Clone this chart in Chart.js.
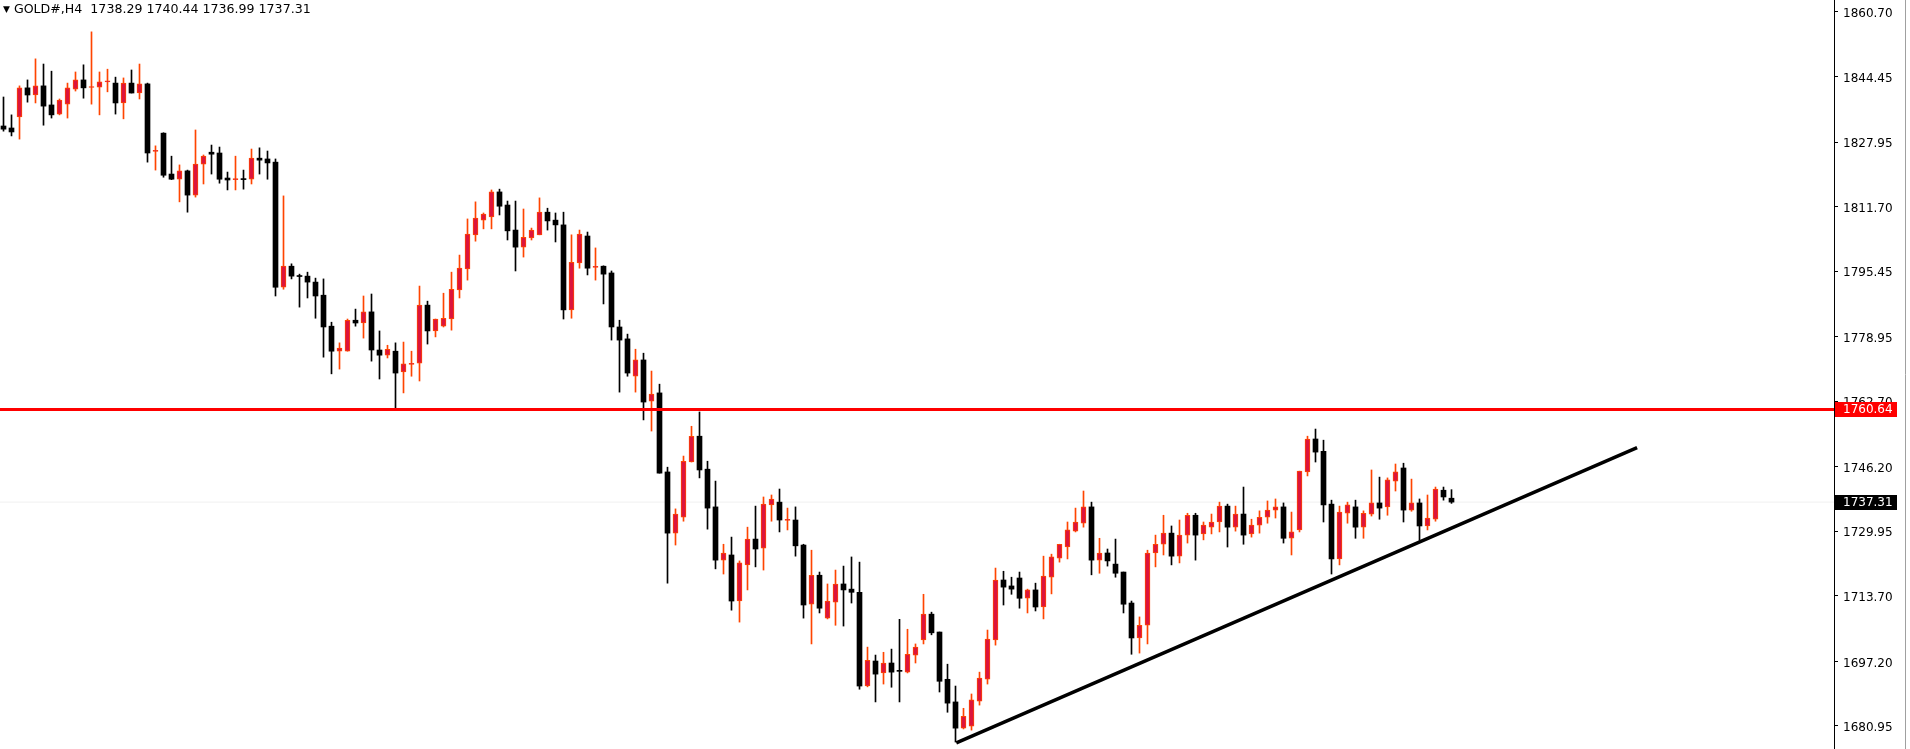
<!DOCTYPE html>
<html>
<head>
<meta charset="utf-8">
<title>GOLD#,H4</title>
<script src="https://cdn.jsdelivr.net/npm/chart.js@4.4.0/dist/chart.umd.min.js"></script>
<style>
  html, body { margin: 0; padding: 0; background: #fff; overflow: hidden; }
  #wrap { position: relative; width: 1910px; height: 749px; }
  #titulo { position: absolute; left: 3px; top: 2px; font: 12.6px "DejaVu Sans", sans-serif; color: #000; white-space: pre; line-height: 14px; }
  #titulo .seta { font-size: 9px; vertical-align: 1px; }
</style>
</head>
<body>
<div id="wrap">
  <canvas id="grafico" width="1910" height="749"></canvas>
  <div id="titulo"></div>
</div>
<script>
// dados das velas (H4), da mais antiga para a mais recente
const simbolo = "GOLD#";
const periodo = "H4";

const aberturas = [
  1832.0, 1831.5, 1834.3, 1841.6, 1839.8, 1842.1, 1837.3, 1835.0, 1837.5, 1841.3,
  1843.6, 1841.7, 1841.8, 1843.1, 1842.8, 1837.8, 1842.8, 1840.3, 1842.6, 1825.6,
  1830.2, 1819.9, 1818.6, 1820.7, 1814.6, 1822.4, 1825.4, 1825.2, 1818.9, 1818.5,
  1818.7, 1818.6, 1823.9, 1823.7, 1822.9, 1791.4, 1796.7, 1794.3, 1794.2, 1792.7,
  1789.4, 1781.6, 1775.3, 1775.3, 1783.1, 1782.4, 1785.2, 1775.6, 1774.3, 1775.3,
  1770.1, 1772.0, 1772.3, 1786.9, 1780.4, 1781.6, 1783.4, 1790.7, 1796.0, 1804.6,
  1808.3, 1809.1, 1815.4, 1812.1, 1805.8, 1801.5, 1803.8, 1804.6, 1810.3, 1808.3,
  1807.1, 1785.7, 1797.5, 1804.3, 1796.4, 1796.7, 1795.0, 1781.4, 1778.4, 1769.0,
  1773.1, 1762.7, 1764.8, 1744.9, 1729.5, 1733.5, 1747.4, 1753.9, 1745.6, 1736.1,
  1722.7, 1724.0, 1712.4, 1721.5, 1728.0, 1725.7, 1736.6, 1737.3, 1732.7, 1732.8,
  1726.5, 1711.6, 1718.9, 1708.1, 1712.1, 1716.7, 1715.4, 1714.6, 1691.0, 1697.3,
  1694.3, 1696.8, 1694.8, 1694.5, 1698.8, 1702.6, 1709.1, 1704.6, 1692.7, 1687.0,
  1680.4, 1680.9, 1687.2, 1692.7, 1702.6, 1717.7, 1716.2, 1718.2, 1713.1, 1715.2,
  1710.9, 1718.4, 1723.2, 1726.0, 1730.0, 1732.0, 1736.1, 1722.7, 1724.5, 1721.7,
  1719.7, 1711.9, 1703.1, 1706.3, 1724.5, 1726.7, 1729.5, 1723.7, 1729.0, 1734.0,
  1729.3, 1731.0, 1732.3, 1736.3, 1731.0, 1734.3, 1729.3, 1731.5, 1733.5, 1735.3,
  1736.1, 1728.2, 1730.3, 1744.9, 1753.2, 1750.1, 1736.8, 1723.0, 1734.5, 1736.1,
  1731.0, 1734.3, 1737.1, 1736.1, 1742.6, 1745.9, 1735.3, 1737.1, 1731.3, 1733.0,
  1740.3, 1738.29
];

const maximas = [
  1839.3, 1834.8, 1842.1, 1843.6, 1848.9, 1847.6, 1845.8, 1838.8, 1842.8, 1845.6,
  1847.4, 1855.7, 1845.6, 1846.3, 1844.3, 1844.1, 1846.1, 1847.6, 1842.8, 1827.0,
  1830.3, 1824.4, 1822.2, 1820.9, 1831.0, 1824.7, 1827.2, 1826.7, 1820.4, 1824.4,
  1820.9, 1826.2, 1826.5, 1825.7, 1823.7, 1814.4, 1797.3, 1794.7, 1795.2, 1793.7,
  1793.5, 1782.6, 1777.4, 1783.4, 1785.9, 1789.2, 1789.7, 1780.4, 1776.8, 1777.4,
  1777.6, 1775.3, 1791.7, 1787.9, 1783.4, 1789.9, 1795.2, 1799.5, 1808.6, 1812.9,
  1810.1, 1815.9, 1816.1, 1813.1, 1813.1, 1811.1, 1806.3, 1813.9, 1811.3, 1810.1,
  1810.3, 1804.6, 1805.8, 1805.3, 1801.3, 1796.8, 1795.5, 1783.1, 1779.6, 1775.8,
  1774.8, 1770.3, 1767.0, 1746.1, 1735.6, 1748.9, 1756.4, 1760.0, 1747.6, 1742.6,
  1726.7, 1728.5, 1722.5, 1731.0, 1736.3, 1738.6, 1739.1, 1740.6, 1735.8, 1736.1,
  1726.7, 1725.2, 1719.7, 1716.7, 1720.2, 1721.2, 1723.5, 1722.2, 1700.8, 1698.8,
  1699.5, 1700.3, 1707.8, 1705.3, 1701.6, 1714.1, 1709.6, 1704.6, 1696.5, 1691.0,
  1685.4, 1689.0, 1694.5, 1705.1, 1720.7, 1719.9, 1718.4, 1719.7, 1715.4, 1716.9,
  1723.7, 1724.2, 1726.7, 1732.3, 1735.8, 1740.1, 1737.3, 1728.2, 1725.5, 1728.0,
  1719.7, 1712.4, 1708.4, 1725.2, 1729.0, 1734.0, 1731.3, 1732.8, 1734.5, 1734.5,
  1732.3, 1734.3, 1737.3, 1736.8, 1736.3, 1741.1, 1733.0, 1735.1, 1737.6, 1738.1,
  1737.1, 1734.8, 1745.1, 1753.9, 1755.7, 1752.9, 1737.8, 1736.3, 1737.3, 1737.8,
  1735.1, 1745.4, 1743.6, 1743.4, 1746.9, 1747.1, 1743.1, 1738.1, 1739.1, 1741.1,
  1741.1, 1740.44
];

const minimas = [
  1830.7, 1829.5, 1828.7, 1838.0, 1837.8, 1832.2, 1834.0, 1834.8, 1834.0, 1840.8,
  1839.0, 1837.5, 1834.8, 1840.6, 1835.0, 1833.8, 1840.3, 1838.8, 1822.9, 1820.9,
  1819.1, 1818.5, 1812.9, 1810.3, 1814.1, 1817.4, 1819.9, 1817.6, 1815.9, 1815.9,
  1816.1, 1817.4, 1819.9, 1818.6, 1789.2, 1790.9, 1793.5, 1786.4, 1788.7, 1783.6,
  1773.8, 1769.6, 1770.8, 1775.3, 1781.6, 1778.6, 1772.8, 1768.3, 1773.6, 1760.6,
  1764.8, 1769.0, 1767.8, 1777.1, 1778.9, 1781.4, 1780.6, 1788.7, 1793.2, 1803.0,
  1806.1, 1806.1, 1809.6, 1803.3, 1795.5, 1799.0, 1803.3, 1804.6, 1805.8, 1802.8,
  1783.4, 1783.6, 1796.2, 1794.5, 1793.2, 1787.2, 1778.1, 1765.0, 1769.0, 1765.0,
  1758.0, 1755.2, 1744.6, 1716.9, 1726.5, 1732.5, 1747.4, 1743.4, 1730.5, 1720.5,
  1719.2, 1710.1, 1707.1, 1715.2, 1721.0, 1720.2, 1732.5, 1729.8, 1730.3, 1723.7,
  1708.1, 1701.6, 1709.4, 1707.9, 1706.3, 1706.1, 1711.9, 1690.2, 1690.8, 1687.0,
  1691.5, 1690.7, 1687.0, 1694.3, 1696.8, 1701.6, 1703.9, 1689.5, 1684.4, 1676.9,
  1680.2, 1679.9, 1686.2, 1691.5, 1701.3, 1711.4, 1714.1, 1710.6, 1709.4, 1709.9,
  1707.9, 1714.2, 1722.2, 1723.0, 1729.8, 1731.0, 1719.0, 1719.4, 1721.2, 1718.4,
  1709.4, 1699.0, 1699.3, 1701.6, 1721.0, 1724.0, 1721.5, 1722.0, 1727.0, 1722.7,
  1727.8, 1729.3, 1729.8, 1726.0, 1730.0, 1726.7, 1728.5, 1729.5, 1732.0, 1733.3,
  1727.0, 1724.0, 1729.8, 1743.9, 1747.4, 1732.3, 1719.2, 1721.5, 1732.0, 1728.2,
  1728.2, 1733.8, 1733.0, 1734.0, 1740.1, 1732.3, 1735.0, 1727.7, 1730.3, 1732.5,
  1737.8, 1736.99
];

const fechamentos = [
  1831.2, 1830.5, 1841.6, 1839.8, 1842.1, 1837.0, 1834.8, 1838.5, 1841.6, 1843.6,
  1841.6, 1841.9, 1843.1, 1843.3, 1837.8, 1842.8, 1840.3, 1842.6, 1825.2, 1825.8,
  1819.6, 1818.6, 1820.7, 1814.6, 1822.4, 1824.4, 1824.9, 1818.6, 1818.4, 1818.7,
  1818.5, 1823.9, 1823.4, 1822.7, 1791.4, 1796.7, 1794.2, 1794.1, 1792.7, 1789.2,
  1781.4, 1775.3, 1776.1, 1783.1, 1782.4, 1785.2, 1775.6, 1774.3, 1775.8, 1769.8,
  1772.1, 1772.2, 1786.9, 1780.4, 1783.4, 1783.6, 1790.9, 1796.2, 1804.8, 1808.8,
  1809.8, 1815.4, 1811.8, 1805.6, 1801.5, 1804.0, 1805.8, 1810.3, 1808.1, 1807.1,
  1785.7, 1797.7, 1804.8, 1796.2, 1796.6, 1794.7, 1781.4, 1778.1, 1769.8, 1773.1,
  1762.5, 1764.5, 1744.6, 1729.5, 1734.3, 1747.6, 1753.9, 1745.4, 1735.8, 1722.7,
  1724.5, 1712.4, 1722.0, 1728.0, 1725.5, 1736.8, 1738.1, 1732.8, 1732.9, 1726.3,
  1711.4, 1718.9, 1710.6, 1712.4, 1716.7, 1715.2, 1714.6, 1691.0, 1697.5, 1694.0,
  1696.8, 1694.5, 1694.7, 1699.0, 1700.8, 1709.1, 1704.4, 1692.2, 1686.7, 1680.4,
  1683.4, 1687.5, 1693.0, 1702.8, 1717.7, 1715.9, 1715.4, 1713.1, 1715.2, 1710.9,
  1718.7, 1723.5, 1726.7, 1730.3, 1732.3, 1736.1, 1722.7, 1724.5, 1722.5, 1719.4,
  1711.6, 1703.1, 1706.3, 1724.5, 1726.7, 1729.5, 1723.7, 1729.0, 1734.0, 1729.0,
  1731.5, 1732.3, 1736.3, 1731.0, 1734.3, 1729.0, 1731.5, 1733.5, 1735.3, 1736.1,
  1728.2, 1729.8, 1745.1, 1753.2, 1749.9, 1736.6, 1723.0, 1734.8, 1736.6, 1731.0,
  1734.5, 1737.1, 1735.8, 1742.9, 1744.9, 1735.3, 1737.1, 1731.3, 1733.3, 1740.6,
  1738.6, 1737.31
];

// rótulos do eixo de preços
const rotulosY = [1860.70, 1844.45, 1827.95, 1811.70, 1795.45, 1778.95, 1762.70, 1746.20, 1729.95, 1713.70, 1697.20, 1680.95];

// linha horizontal (suporte/resistência) e linha de tendência (índice da vela, preço)
const nivelHorizontal = 1760.64;
const tendenciaX = [119.1, 204.2];
const tendenciaY = [1676.7, 1751.0];

// cores
const corAlta = '#dc143c';
const corAltaBorda = '#ff4500';
const corBaixa = '#000000';

document.addEventListener("DOMContentLoaded", function () {
  const n = fechamentos.length;
  const xMin = -0.4375;
  const xMax = 228.8125;
  const alta = i => fechamentos[i] >= aberturas[i];

  const ultimo = n - 1;
  document.getElementById("titulo").innerHTML =
    '<span class="seta">&#9660;</span> ' + simbolo + ',' + periodo + '  ' +
    [aberturas[ultimo], maximas[ultimo], minimas[ultimo], fechamentos[ultimo]].map(v => v.toFixed(2)).join(' ');

  const pavios = aberturas.map((_, i) => ({ x: i, y: [minimas[i], maximas[i]] }));
  const corpos = aberturas.map((o, i) => ({ x: i, y: [Math.min(o, fechamentos[i]), Math.max(o, fechamentos[i])] }));

  // caixas de preço no eixo + borda direita
  const etiquetasEixo = {
    id: 'etiquetasEixo',
    afterDraw(chart) {
      const { ctx, chartArea, scales } = chart;
      const y = scales.y;
      function caixa(valor, cor) {
        const py = Math.round(y.getPixelForValue(valor));
        ctx.save();
        ctx.fillStyle = cor;
        ctx.fillRect(chartArea.right + 1, py - 7, 62, 15);
        ctx.fillStyle = '#fff';
        ctx.font = '12px "DejaVu Sans"';
        ctx.textBaseline = 'middle';
        ctx.fillText(valor.toFixed(2), chartArea.right + 9, py + 1);
        ctx.restore();
      }
      caixa(nivelHorizontal, '#ff0000');
      caixa(fechamentos[ultimo], '#000000');

      ctx.save();
      ctx.strokeStyle = '#a0a0a0';
      ctx.lineWidth = 1;
      ctx.beginPath();
      ctx.moveTo(chart.width - 4.5, 0);
      ctx.lineTo(chart.width - 4.5, chart.height);
      ctx.stroke();
      ctx.restore();
    }
  };

  const ctx = document.getElementById("grafico").getContext("2d");
  new Chart(ctx, {
    type: 'bar',
    data: {
      datasets: [
        {
          type: 'line',
          label: 'Nível',
          data: [{ x: xMin, y: nivelHorizontal }, { x: xMax, y: nivelHorizontal }],
          borderColor: '#ff0000',
          borderWidth: 3,
          pointRadius: 0,
          order: -2
        },
        {
          type: 'line',
          label: 'Tendência',
          data: tendenciaX.map((x, i) => ({ x, y: tendenciaY[i] })),
          borderColor: '#000000',
          borderWidth: 3.5,
          pointRadius: 0,
          order: -1
        },
        {
          label: 'Corpo',
          data: corpos,
          grouped: false,
          barThickness: 5,
          minBarLength: 1,
          borderWidth: ctx => alta(ctx.dataIndex) ? 1 : 0,
          borderSkipped: false,
          borderColor: ctx => alta(ctx.dataIndex) ? corAltaBorda : corBaixa,
          backgroundColor: ctx => alta(ctx.dataIndex) ? corAlta : corBaixa,
          order: 1
        },
        {
          label: 'Pavio',
          data: pavios,
          grouped: false,
          barThickness: 1,
          borderWidth: 0,
          backgroundColor: ctx => alta(ctx.dataIndex) ? corAltaBorda : corBaixa,
          order: 2
        },
        {
          type: 'line',
          label: 'Bid',
          data: [{ x: xMin, y: fechamentos[ultimo] }, { x: xMax, y: fechamentos[ultimo] }],
          borderColor: '#f0f0f0',
          borderWidth: 1,
          pointRadius: 0,
          order: 3
        }
      ]
    },
    options: {
      responsive: false,
      animation: false,
      layout: { padding: 0 },
      plugins: {
        legend: { display: false },
        tooltip: { enabled: false }
      },
      scales: {
        x: {
          type: 'linear',
          display: false,
          offset: false,
          min: xMin,
          max: xMax
        },
        y: {
          position: 'right',
          min: 1675.15,
          max: 1863.72,
          afterBuildTicks: s => { s.ticks = rotulosY.map(v => ({ value: v })); },
          afterFit: s => { s.width = 76; s.paddingTop = 0; s.paddingBottom = 0; },
          ticks: {
            autoSkip: false,
            color: '#000',
            padding: 5,
            labelOffset: 2,
            font: { family: 'DejaVu Sans', size: 12 },
            callback: v => Number(v).toFixed(2)
          },
          grid: { drawOnChartArea: false, tickLength: 4, color: '#000' },
          border: { color: '#000', width: 1 }
        }
      }
    },
    plugins: [etiquetasEixo]
  });
});
</script>
</body>
</html>
